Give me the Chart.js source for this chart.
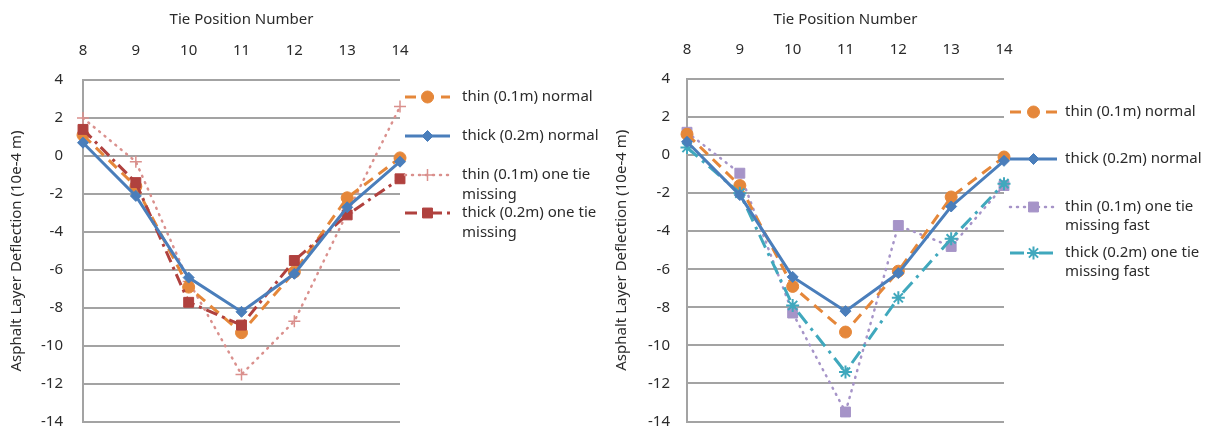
<!DOCTYPE html>
<html>
<head>
<meta charset="utf-8">
<script src="https://cdn.jsdelivr.net/npm/chart.js@4/dist/chart.umd.min.js"></script>
<style>
  body { margin: 0; background: #fff; }
  .box { position: absolute; top: 0; height: 430px; }
</style>
</head>
<body>
<div class="box" style="left:0;width:605px"><canvas id="leftChart" width="605" height="430"></canvas></div>
<div class="box" style="left:605px;width:610px"><canvas id="rightChart" width="610" height="430"></canvas></div>
<script>
// tie positions along the track
const tiePositions = ['8', '9', '10', '11', '12', '13', '14'];
const yTicks = [4, 2, 0, -2, -4, -6, -8, -10, -12, -14];

// deflection values (10e-4 m)
const thinNormal = [1.1, -1.6, -6.9, -9.3, -6.1, -2.2, -0.1];
const thickNormal = [0.7, -2.1, -6.4, -8.2, -6.2, -2.7, -0.3];
const thinOneMissing = [2.0, -0.3, -6.6, -11.5, -8.7, -3.0, 2.6];
const thickOneMissing = [1.4, -1.4, -7.7, -8.9, -5.5, -3.1, -1.2];
const thinMissingFast = [1.2, -0.95, -8.3, -13.5, -3.7, -4.8, -1.6];
const thickMissingFast = [0.4, -2.0, -7.9, -11.4, -7.5, -4.4, -1.5];

const leftLabels = [
    ['thin (0.1m) normal'],
    ['thick (0.2m) normal'],
    ['thin (0.1m) one tie', 'missing'],
    ['thick (0.2m) one tie', 'missing']
];
const rightLabels = [
    ['thin (0.1m) normal'],
    ['thick (0.2m) normal'],
    ['thin (0.1m) one tie', 'missing fast'],
    ['thick (0.2m) one tie', 'missing fast']
];

const FONT = '"Noto Sans", sans-serif';
const TEXT = '#2b2b2b';
const GRID = '#a3a3a3';

// legend drawn next to the plot, with multi-line labels
const sideLegend = {
    id: 'sideLegend',
    afterDraw(chart, args, opts) {
        const ctx = chart.ctx;
        ctx.save();
        chart.data.datasets.forEach((ds, i) => {
            const y = opts.rows[i];
            ctx.strokeStyle = ds.borderColor;
            ctx.lineWidth = ds.borderWidth;
            ctx.lineCap = ds.borderCapStyle || 'butt';
            ctx.setLineDash(ds.borderDash || []);
            ctx.beginPath();
            ctx.moveTo(opts.x0, y);
            ctx.lineTo(opts.x1, y);
            ctx.stroke();
            ctx.setLineDash([]);
            ctx.lineCap = 'butt';
            ctx.fillStyle = ds.pointBackgroundColor;
            ctx.strokeStyle = ds.pointBorderColor;
            ctx.lineWidth = ds.pointBorderWidth;
            Chart.helpers.drawPoint(ctx, {
                pointStyle: ds.pointStyle,
                radius: ds.pointRadius,
                borderWidth: ds.pointBorderWidth,
                rotation: 0
            }, (opts.x0 + opts.x1) / 2, y);

            ctx.fillStyle = TEXT;
            ctx.font = '15px ' + FONT;
            ctx.textBaseline = 'middle';
            ctx.textAlign = 'left';
            opts.labels[i].forEach((line, k) => {
                ctx.fillText(line, opts.textX, y + k * opts.lineGap);
            });
        });
        ctx.restore();
    }
};

function series(label, values, color, style) {
    return Object.assign({
        label: label,
        data: values,
        borderColor: color,
        backgroundColor: color,
        pointBackgroundColor: color,
        pointBorderColor: color,
        borderWidth: 3,
        pointBorderWidth: 1,
        tension: 0,
        fill: false
    }, style);
}

function makeChart(id, datasets, legendOpts, area) {
    return new Chart(document.getElementById(id), {
        type: 'line',
        data: { labels: tiePositions, datasets: datasets },
        plugins: [sideLegend],
        options: {
            responsive: false,
            animation: false,
            devicePixelRatio: 1,
            layout: { padding: { left: 0, top: 0, right: area.padRight, bottom: area.padBottom } },
            plugins: {
                legend: { display: false },
                tooltip: { enabled: false },
                sideLegend: legendOpts
            },
            scales: {
                x: {
                    position: 'top',
                    offset: false,
                    grid: { display: false },
                    border: { display: false },
                    ticks: { color: TEXT, font: { family: FONT, size: 15 }, padding: 12, maxRotation: 0 },
                    title: {
                        display: true,
                        text: 'Tie Position Number',
                        color: TEXT,
                        font: { family: FONT, size: 15 },
                        padding: { top: 11, bottom: 0 }
                    },
                    afterFit(scale) { scale.height = area.top; }
                },
                y: {
                    min: -14,
                    max: 4,
                    afterBuildTicks(scale) { scale.ticks = yTicks.map(v => ({ value: v })); },
                    grid: { color: GRID, lineWidth: 2, drawTicks: false },
                    border: { color: GRID, width: 2 },
                    ticks: { color: TEXT, font: { family: FONT, size: 15 }, padding: area.tickPad },
                    title: {
                        display: true,
                        text: 'Asphalt Layer Deflection (10e-4 m)',
                        color: TEXT,
                        font: { family: FONT, size: 15 },
                        padding: { top: 8, bottom: 0 }
                    },
                    afterFit(scale) {
                        scale.width = area.left;
                        scale.paddingTop = 0;
                        scale.paddingBottom = 0;
                    }
                }
            }
        }
    });
}

const ORANGE = '#e5873a';
const BLUE = '#4a7ebb';
const PINK = '#da908d';
const DARKRED = '#b0413e';
const LAVENDER = '#a694c8';
const TEAL = '#40a8bd';

const orangeStyle = { borderDash: [11, 7], pointStyle: 'circle', pointRadius: 6, order: 2 };
const blueStyle = { pointStyle: 'rectRot', pointRadius: 5.5, order: 0 };

makeChart('leftChart', [
    series('thin (0.1m) normal', thinNormal, ORANGE, orangeStyle),
    series('thick (0.2m) normal', thickNormal, BLUE, blueStyle),
    series('thin (0.1m) one tie missing', thinOneMissing, PINK, {
        borderWidth: 2.5, borderDash: [1, 6], borderCapStyle: 'round',
        pointStyle: 'cross', pointRadius: 6, pointBorderWidth: 1.5, order: 3
    }),
    series('thick (0.2m) one tie missing', thickOneMissing, DARKRED, {
        borderDash: [12, 5, 3, 5], pointStyle: 'rect', pointRadius: 7, order: 1
    })
], { rows: [97, 136, 175, 213], x0: 405, x1: 450, textX: 462, lineGap: 20, labels: leftLabels },
   { left: 83, top: 80, padRight: 205, padBottom: 4, tickPad: 20 });

makeChart('rightChart', [
    series('thin (0.1m) normal', thinNormal, ORANGE, orangeStyle),
    series('thick (0.2m) normal', thickNormal, BLUE, blueStyle),
    series('thin (0.1m) one tie missing fast', thinMissingFast, LAVENDER, {
        borderWidth: 2.5, borderDash: [1, 6], borderCapStyle: 'round',
        pointStyle: 'rect', pointRadius: 7, order: 3
    }),
    series('thick (0.2m) one tie missing fast', thickMissingFast, TEAL, {
        borderDash: [14, 6, 3, 6], pointStyle: 'star', pointRadius: 6.5, pointBorderWidth: 2, order: 1
    })
], { rows: [112, 159, 207, 253], x0: 405, x1: 452, textX: 460, lineGap: 19, labels: rightLabels },
   { left: 82, top: 79, padRight: 211, padBottom: 8, tickPad: 17 });
</script>
</body>
</html>
